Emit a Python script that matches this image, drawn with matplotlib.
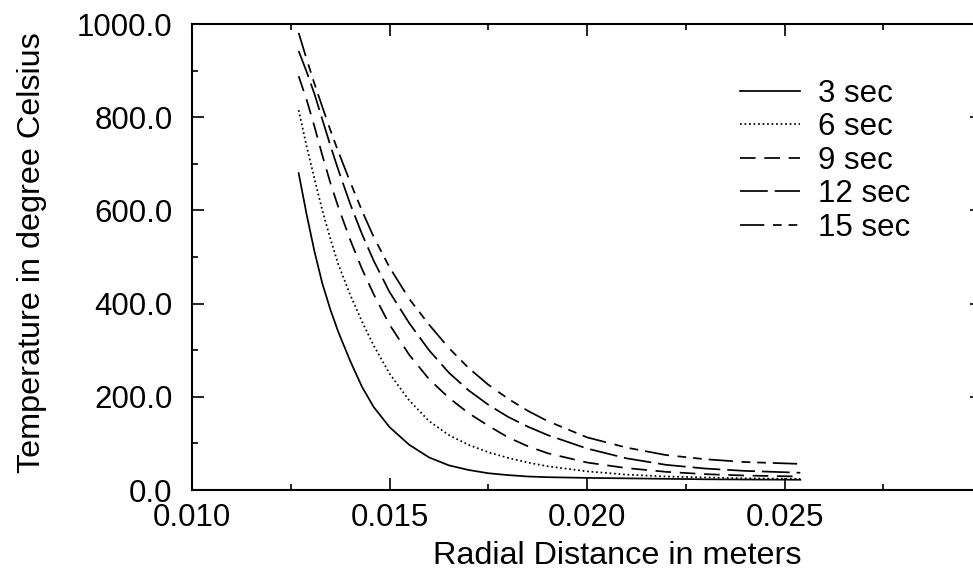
import matplotlib
matplotlib.use("Agg")
import matplotlib.pyplot as plt
from matplotlib.ticker import MultipleLocator, FormatStrFormatter

# radial positions (m) and temperatures (deg C)
radius = [0.0127, 0.0129, 0.0131, 0.0133, 0.0135, 0.0137, 0.0140, 0.0143,
          0.0146, 0.0150, 0.0155, 0.0160, 0.0165, 0.0170, 0.0175, 0.0180,
          0.0185, 0.0190, 0.0200, 0.0210, 0.0220, 0.0230, 0.0240, 0.0254]

temp_3s = [680, 592, 512, 443, 388, 340, 278, 222, 178, 135, 97, 70,
           53, 43, 36, 32, 29, 27.5, 26, 25, 24, 23, 22.5, 22]
temp_6s = [815, 738, 668, 600, 540, 485, 420, 362, 310, 250, 192, 148,
           118, 97, 81, 69, 59, 51, 40, 33, 29, 27, 25, 24]
temp_9s = [888, 838, 780, 718, 660, 608, 538, 475, 420, 355, 290, 238,
           198, 165, 138, 113, 94, 79, 59, 47, 39, 34, 31, 29]
temp_12s = [942, 898, 850, 795, 740, 688, 615, 550, 492, 425, 358, 300,
            252, 214, 183, 157, 136, 118, 89, 68, 54, 46, 41, 37]
temp_15s = [981, 925, 872, 822, 773, 727, 662, 600, 543, 478, 410, 355,
            305, 262, 226, 196, 170, 148, 113, 91, 75, 66, 60, 56]

labels = ["3 sec", "6 sec", "9 sec", "12 sec", "15 sec"]


def main():
    plt.rcParams["font.family"] = ["Liberation Sans", "DejaVu Sans"]
    plt.rcParams["font.size"] = 22.5

    fig = plt.figure(figsize=(9.73, 5.71), dpi=100)
    # axes run past the right edge of the picture, like the scanned original
    ax = fig.add_axes([192 / 973, 81 / 571, 790 / 973, 466 / 571])

    styles = [
        "-",
        (0, (1.0, 1.6)),
        (0, (9, 5)),
        (0, (16, 4)),
        (0, (14, 5, 5, 4, 5, 4)),
    ]
    series = [temp_3s, temp_6s, temp_9s, temp_12s, temp_15s]
    for temps, ls, lab in zip(series, styles, labels):
        ax.plot(radius, temps, color="black", linestyle=ls, linewidth=1.25, label=lab)

    ax.set_xlim(0.010, 0.030)
    ax.set_ylim(0, 1000)
    ax.set_xticks([0.010, 0.015, 0.020, 0.025])
    ax.xaxis.set_minor_locator(MultipleLocator(0.0025))
    ax.yaxis.set_major_locator(MultipleLocator(200))
    ax.yaxis.set_minor_locator(MultipleLocator(100))
    ax.xaxis.set_major_formatter(FormatStrFormatter("%.3f"))
    ax.yaxis.set_major_formatter(FormatStrFormatter("%.1f"))

    for s in ax.spines.values():
        s.set_linewidth(1.5)
    ax.tick_params(which="both", direction="in", top=True, right=True, width=1.2)
    ax.tick_params(which="major", length=8.5)
    ax.tick_params(which="minor", length=4.5)
    ax.tick_params(axis="y", pad=14)
    ax.tick_params(axis="x", pad=9)

    ax.set_xlabel("Radial Distance in meters", fontsize=23.3)
    ax.set_ylabel("Temperature in degree Celsius", fontsize=23.3)
    ax.xaxis.set_label_coords(0.538, -0.11)
    ax.yaxis.set_label_coords(-0.184, 0.51)

    ax.legend(loc="upper left", bbox_to_anchor=(548 / 790, 0.882),
              frameon=False, handlelength=1.92, handletextpad=0.58,
              labelspacing=0.11, borderpad=0, borderaxespad=0)

    fig.savefig("out.png", dpi=100)


if __name__ == "__main__":
    main()
